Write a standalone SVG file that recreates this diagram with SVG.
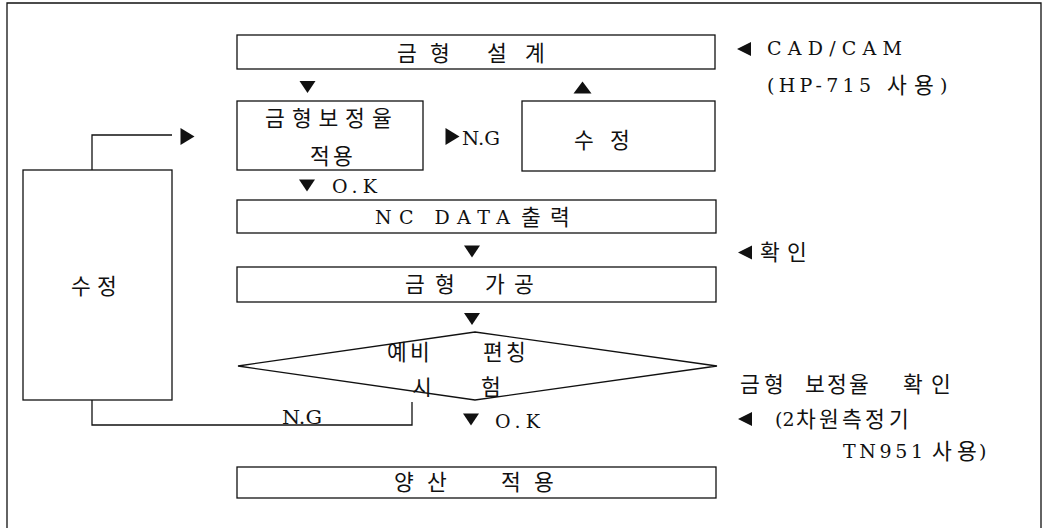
<svg xmlns="http://www.w3.org/2000/svg" width="1043" height="528" viewBox="0 0 1043 528">
<defs>
<style>
.box{fill:#fff;stroke:#111;stroke-width:1.3}
.ln{fill:none;stroke:#111;stroke-width:1.3}
.ko{font-family:"Noto Sans CJK KR","Noto Sans",sans-serif;font-size:21.5px;fill:#111;text-anchor:middle}
.sr{font-family:"DejaVu Serif","Liberation Serif","Noto Sans CJK KR",serif;font-size:19px;fill:#111}
.tri{fill:#111}
</style>
<path id="dn" d="M-8,-6 L8,-6 L0,6 Z"/>
<path id="up" d="M-9,6 L9,6 L0,-6 Z"/>
<path id="rt" d="M-7,-8.5 L7,0 L-7,8.5 Z"/>
<path id="lf" d="M7,-7 L7,7 L-7,0 Z"/>
</defs>
<rect width="1043" height="528" fill="#fff"/>
<path class="ln" d="M7,528 V3 H1041 V528"/>

<g id="connectors">
<polyline class="ln" points="92,170 92,135 172,135"/>
<polyline class="ln" points="92,400 92,425 412,425 412,402"/>
<use href="#dn" class="tri" x="307.5" y="87"/>
<use href="#up" class="tri" x="582.5" y="87.5"/>
<use href="#rt" class="tri" x="187.5" y="136.5"/>
<use href="#rt" class="tri" x="452.5" y="136.5"/>
<use href="#dn" class="tri" x="307" y="185.5"/>
<use href="#dn" class="tri" x="472" y="251.5"/>
<use href="#dn" class="tri" x="472" y="319"/>
<use href="#dn" class="tri" x="471" y="419.5"/>
<use href="#lf" class="tri" x="744" y="49"/>
<use href="#lf" class="tri" x="745" y="252.5"/>
<use href="#lf" class="tri" x="745" y="419"/>
<text class="sr" x="462" y="145" textLength="38" lengthAdjust="spacingAndGlyphs">N.G</text>
<text class="sr" x="332" y="193" textLength="45" lengthAdjust="spacing">O.K</text>
<text class="sr" x="282" y="424" textLength="40" lengthAdjust="spacingAndGlyphs">N.G</text>
<text class="sr" x="495" y="428" textLength="45" lengthAdjust="spacing">O.K</text>
</g>

<g id="node-design">
<rect class="box" x="237" y="35" width="478" height="34"/>
<text class="ko" y="61"><tspan x="407">금</tspan><tspan x="440">형</tspan><tspan x="497">설</tspan><tspan x="535">계</tspan></text>
</g>

<g id="node-apply">
<rect class="box" x="237" y="101" width="186" height="69"/>
<text class="ko" y="126"><tspan x="275">금</tspan><tspan x="302">형</tspan><tspan x="328.5">보</tspan><tspan x="355">정</tspan><tspan x="382">율</tspan></text>
<text class="ko" y="164"><tspan x="320">적</tspan><tspan x="343">용</tspan></text>
</g>

<g id="node-fix-top">
<rect class="box" x="522" y="101" width="193" height="70"/>
<text class="ko" y="148"><tspan x="584">수</tspan><tspan x="620">정</tspan></text>
</g>

<g id="node-fix-left">
<rect class="box" x="23" y="170" width="149" height="230"/>
<text class="ko" y="294"><tspan x="81">수</tspan><tspan x="107">정</tspan></text>
</g>

<g id="node-nc">
<rect class="box" x="237" y="200" width="479" height="33"/>
<text class="sr" x="375" y="224" font-size="20" textLength="135" lengthAdjust="spacing">NC DATA</text>
<text class="ko" y="225"><tspan x="531">출</tspan><tspan x="560">력</tspan></text>
</g>

<g id="node-machining">
<rect class="box" x="237" y="267" width="479" height="35"/>
<text class="ko" y="292"><tspan x="415">금</tspan><tspan x="445">형</tspan><tspan x="495">가</tspan><tspan x="524">공</tspan></text>
</g>

<g id="node-trial">
<polygon class="box" points="475,332 717,366 475,400 238,366"/>
<text class="ko" y="360"><tspan x="397">예</tspan><tspan x="420">비</tspan><tspan x="493">편</tspan><tspan x="516">칭</tspan></text>
<text class="ko" y="395"><tspan x="422">시</tspan><tspan x="491">험</tspan></text>
</g>

<g id="node-mass">
<rect class="box" x="237" y="467" width="479" height="31"/>
<text class="ko" y="490"><tspan x="404">양</tspan><tspan x="437">산</tspan><tspan x="511">적</tspan><tspan x="544">용</tspan></text>
</g>

<g id="notes">
<text class="sr" x="767" y="55" textLength="135" lengthAdjust="spacing">CAD/CAM</text>
<text class="sr" x="767" y="92" textLength="104" lengthAdjust="spacing">(HP-715</text>
<text class="ko" y="93" font-size="20"><tspan x="897">사</tspan><tspan x="924">용</tspan></text>
<text class="sr" x="940" y="92">)</text>
<text class="ko" y="260"><tspan x="770">확</tspan><tspan x="797">인</tspan></text>
<text class="ko" y="392" font-size="20"><tspan x="750">금</tspan><tspan x="774">형</tspan><tspan x="815">보</tspan><tspan x="837">정</tspan><tspan x="859">율</tspan><tspan x="913">확</tspan><tspan x="941">인</tspan></text>
<text class="sr" x="775" y="426">(2</text>
<text class="ko" y="427" font-size="19"><tspan x="806">차</tspan><tspan x="829">원</tspan><tspan x="852">측</tspan><tspan x="875">정</tspan><tspan x="899">기</tspan></text>
<text class="sr" x="843" y="458" textLength="80" lengthAdjust="spacing">TN951</text>
<text class="ko" y="459" font-size="20"><tspan x="942">사</tspan><tspan x="967">용</tspan></text>
<text class="sr" x="979" y="458">)</text>
</g>
</svg>
